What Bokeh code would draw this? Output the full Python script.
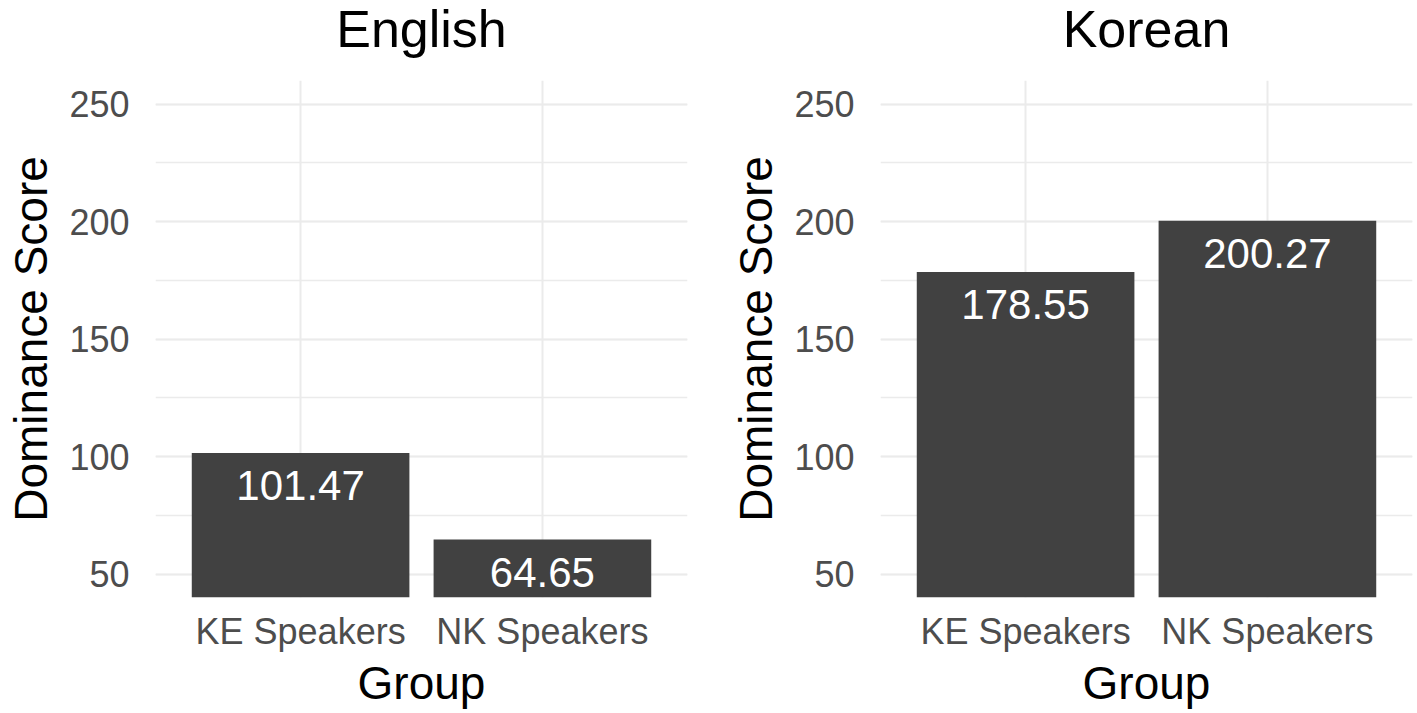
from bokeh.plotting import figure
from bokeh.layouts import row, column
from bokeh.models import FactorRange, Range1d, SingleIntervalTicker, ColumnDataSource
from bokeh.core.properties import value
from bokeh.embed import file_html
from bokeh.resources import INLINE

groups = ["KE Speakers", "NK Speakers"]
english_scores = [101.47, 64.65]
korean_scores = [178.55, 200.27]
panel_titles = ["English", "Korean"]

FONT = "Liberation Sans"
BAR = "#414141"
GRID = "#ebebeb"
Y_MIN, Y_MAX = 40, 260
TITLE_H = 80
TOTAL_H = 711


def make_title(title, width, left, right):
    t = figure(width=width, height=TITLE_H,
               x_range=Range1d(0, 1), y_range=Range1d(0, TITLE_H),
               x_axis_type=None, y_axis_type=None,
               min_border_left=left, min_border_right=right,
               min_border_top=0, min_border_bottom=0,
               output_backend="svg", toolbar_location=None)
    t.outline_line_color = None
    t.background_fill_color = "white"
    t.border_fill_color = "white"
    t.text(x=[0.5], y=[52], text=[title], text_color="black",
           text_font=value(FONT), text_font_size="52px",
           text_align="center", text_baseline="alphabetic")
    return t


def make_panel(scores, width, left, right):
    src = ColumnDataSource(dict(
        g=groups, v=scores, lbl=["%.2f" % s for s in scores]))
    p = figure(
        x_range=FactorRange(factors=groups, range_padding=0.1),
        y_range=Range1d(Y_MIN, Y_MAX),
        width=width, height=TOTAL_H - TITLE_H,
        min_border_left=left, min_border_right=right,
        min_border_top=0, min_border_bottom=113,
        output_backend="svg", toolbar_location=None,
    )
    p.vbar(x="g", top="v", bottom=0, width=0.9, source=src,
           fill_color=BAR, line_color=None)
    p.text(x="g", y="v", text="lbl", source=src, text_color="white",
           text_font=value(FONT), text_font_size="42px", text_align="center",
           text_baseline="top", y_offset=18)

    p.outline_line_color = None
    p.background_fill_color = "white"
    p.border_fill_color = "white"

    p.yaxis.ticker = SingleIntervalTicker(interval=50, num_minor_ticks=2)
    for ax in (p.xaxis[0], p.yaxis[0]):
        ax.axis_line_color = None
        ax.major_tick_line_color = None
        ax.minor_tick_line_color = None
        ax.major_label_text_font = FONT
        ax.major_label_text_font_size = "36px"
        ax.major_label_text_color = "#4d4d4d"
        ax.axis_label_text_font = FONT
        ax.axis_label_text_font_size = "46px"
        ax.axis_label_text_font_style = "normal"
        ax.axis_label_text_color = "black"
    p.xaxis.axis_label = "Group"
    p.yaxis.axis_label = "Dominance Score"
    p.yaxis.major_label_standoff = 20
    p.yaxis.axis_label_standoff = 9
    p.xaxis.major_label_standoff = 7
    p.xaxis.axis_label_standoff = 2

    p.xgrid.grid_line_color = GRID
    p.xgrid.grid_line_width = 2
    p.ygrid.grid_line_color = GRID
    p.ygrid.grid_line_width = 2
    p.ygrid.minor_grid_line_color = GRID
    p.ygrid.minor_grid_line_width = 1.5
    return p


col1 = column(make_title(panel_titles[0], 725, 155, 38),
              make_panel(english_scores, 725, 155, 38))
col2 = column(make_title(panel_titles[1], 690, 155, 3),
              make_panel(korean_scores, 690, 155, 3))
layout = row(col1, col2)

open("out.html", "w").write(file_html(layout, INLINE))
